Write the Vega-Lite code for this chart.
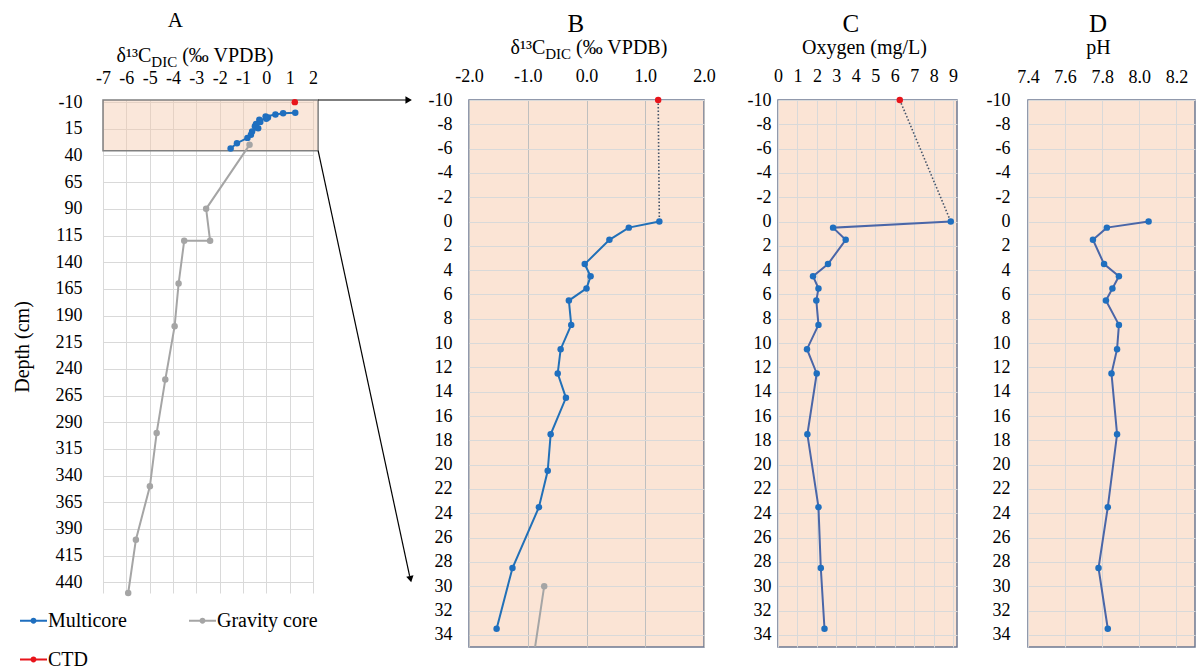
{
  "$schema": "https://vega.github.io/schema/vega-lite/v6.json",
  "padding": {"left": 12, "top": 9, "right": 0, "bottom": 0},
  "background": "white",
  "config": {
    "font": "Liberation Serif",
    "locale": {"number": {"decimal": ".", "thousands": ",", "grouping": [3], "currency": ["", ""], "minus": "-"}},
    "style": {"guide-label": {"font": "Liberation Serif", "fill": "#000"}, "guide-title": {"font": "Liberation Serif", "fill": "#000"}},
    "axis": {"labelFont": "Liberation Serif", "titleFont": "Liberation Serif", "labelFontSize": 18, "titleFontSize": 20, "labelColor": "#000", "titleColor": "#000", "titleFontWeight": "normal", "ticks": false, "tickSize": 0, "domain": false, "gridColor": "#D9D9D9", "gridWidth": 1, "labelOverlap": false, "labelFlush": false},
    "legend": {"labelFont": "Liberation Serif", "labelFontSize": 20, "labelColor": "#000"},
    "text": {"font": "Liberation Serif", "color": "#000"}
  },
  "datasets": {
    "profiles": [
      {"series": "CTD", "depth": -10, "d13c": 1.22, "oxygen": 6.26, "ph": null},
      {"series": "Multicore", "depth": 0, "d13c": 1.24, "oxygen": 8.88, "ph": 8.05},
      {"series": "Multicore", "depth": 0.5, "d13c": 0.72, "oxygen": 2.83, "ph": 7.825},
      {"series": "Multicore", "depth": 1.5, "d13c": 0.39, "oxygen": 3.48, "ph": 7.75},
      {"series": "Multicore", "depth": 3.5, "d13c": -0.03, "oxygen": 2.57, "ph": 7.81},
      {"series": "Multicore", "depth": 4.5, "d13c": 0.07, "oxygen": 1.8, "ph": 7.89},
      {"series": "Multicore", "depth": 5.5, "d13c": 0.0, "oxygen": 2.08, "ph": 7.855},
      {"series": "Multicore", "depth": 6.5, "d13c": -0.3, "oxygen": 1.97, "ph": 7.82},
      {"series": "Multicore", "depth": 8.5, "d13c": -0.26, "oxygen": 2.08, "ph": 7.89},
      {"series": "Multicore", "depth": 10.5, "d13c": -0.44, "oxygen": 1.49, "ph": 7.88},
      {"series": "Multicore", "depth": 12.5, "d13c": -0.49, "oxygen": 1.99, "ph": 7.85},
      {"series": "Multicore", "depth": 14.5, "d13c": -0.35, "oxygen": null, "ph": null},
      {"series": "Multicore", "depth": 17.5, "d13c": -0.61, "oxygen": 1.51, "ph": 7.88},
      {"series": "Multicore", "depth": 20.5, "d13c": -0.66, "oxygen": null, "ph": null},
      {"series": "Multicore", "depth": 23.5, "d13c": -0.81, "oxygen": 2.08, "ph": 7.83},
      {"series": "Multicore", "depth": 28.5, "d13c": -1.26, "oxygen": 2.2, "ph": 7.78},
      {"series": "Multicore", "depth": 33.5, "d13c": -1.53, "oxygen": 2.39, "ph": 7.83},
      {"series": "Gravity core", "depth": 30, "d13c": -0.72, "oxygen": null, "ph": null},
      {"series": "Gravity core", "depth": 90, "d13c": -2.58, "oxygen": null, "ph": null},
      {"series": "Gravity core", "depth": 120, "d13c": -2.41, "oxygen": null, "ph": null},
      {"series": "Gravity core", "depth": 120, "d13c": -3.52, "oxygen": null, "ph": null},
      {"series": "Gravity core", "depth": 160, "d13c": -3.76, "oxygen": null, "ph": null},
      {"series": "Gravity core", "depth": 200, "d13c": -3.93, "oxygen": null, "ph": null},
      {"series": "Gravity core", "depth": 250, "d13c": -4.33, "oxygen": null, "ph": null},
      {"series": "Gravity core", "depth": 300, "d13c": -4.7, "oxygen": null, "ph": null},
      {"series": "Gravity core", "depth": 350, "d13c": -4.99, "oxygen": null, "ph": null},
      {"series": "Gravity core", "depth": 400, "d13c": -5.59, "oxygen": null, "ph": null},
      {"series": "Gravity core", "depth": 450, "d13c": -5.92, "oxygen": null, "ph": null}
    ]
  },
  "bounds": "flush",
  "spacing": 156,
  "hconcat": [
    {
      "width": 210,
      "height": 493,
      "view": {"stroke": null},
      "layer": [
        {
          "data": {"values": [{}]},
          "mark": {"type": "rect", "fill": "#F4C9AC", "fillOpacity": 0.45, "stroke": "#808080", "strokeWidth": 1.5},
          "encoding": {
            "x": {"datum": -7, "type": "quantitative", "scale": {"domain": [-7, 2], "nice": false, "zero": false},
                  "axis": {"orient": "top", "values": [-7, -6, -5, -4, -3, -2, -1, 0, 1, 2], "grid": true, "title": null, "labelPadding": 16.5, "labelBaseline": "alphabetic", "labelOverlap": false, "labelFlush": false}},
            "x2": {"datum": 2.22},
            "y": {"datum": -12, "type": "quantitative", "scale": {"domain": [-12, 450], "reverse": true, "nice": false, "zero": false},
                  "axis": {"values": [-10, 15, 40, 65, 90, 115, 140, 165, 190, 215, 240, 265, 290, 315, 340, 365, 390, 415, 440], "grid": true, "title": "Depth (cm)", "titlePadding": 23, "labelPadding": 21, "labelOverlap": false, "labelFlush": false}},
            "y2": {"datum": 35.5}
          }
        },
        {
          "encoding": {
            "x": {"field": "d13c", "type": "quantitative", "scale": {"domain": [-7, 2], "nice": false, "zero": false},
                  "axis": {"orient": "top", "values": [-7, -6, -5, -4, -3, -2, -1, 0, 1, 2], "grid": true, "title": null, "labelPadding": 16.5, "labelBaseline": "alphabetic", "labelOverlap": false, "labelFlush": false}},
            "y": {"field": "depth", "type": "quantitative", "scale": {"domain": [-12, 450], "reverse": true, "nice": false, "zero": false},
                  "axis": {"values": [-10, 15, 40, 65, 90, 115, 140, 165, 190, 215, 240, 265, 290, 315, 340, 365, 390, 415, 440], "grid": true, "title": "Depth (cm)", "titlePadding": 23, "labelPadding": 21, "labelOverlap": false, "labelFlush": false}}
          },
          "layer": [
            {
              "data": {"name": "profiles"},
              "transform": [{"filter": "datum.series == 'Gravity core'"}],
              "mark": {"type": "line", "color": "#A5A5A5", "strokeWidth": 2},
              "encoding": {"order": {"value": null}}
            },
            {
              "data": {"name": "profiles"},
              "transform": [{"filter": "datum.series == 'Multicore'"}],
              "mark": {"type": "line", "color": "#2170B8", "strokeWidth": 2},
              "encoding": {"order": {"value": null}}
            },
            {
              "data": {"name": "profiles"},
              "mark": {"type": "point", "filled": true, "size": 42, "opacity": 1},
              "encoding": {
                "color": {"field": "series", "type": "nominal",
                          "scale": {"domain": ["Multicore", "Gravity core", "CTD"], "range": ["#1F6FBF", "#A5A5A5", "#E8141B"]},
                          "legend": {"orient": "none", "legendX": -83, "legendY": 507, "direction": "horizontal", "columns": 2, "title": null,
                                     "symbolType": "M-1,-0.075L1,-0.075L1,0.075L-1,0.075ZM-0.22,0A0.22,0.22,0,1,1,0.22,0A0.22,0.22,0,1,1,-0.22,0Z",
                                     "symbolSize": 729, "symbolStrokeWidth": 0, "labelFont": "Liberation Serif", "labelFontSize": 20, "labelColor": "#000",
                                     "labelOffset": 1, "columnPadding": 62, "rowPadding": 15,
                                     "encode": {
                                       "symbols": {"shape": {"value": "M-1,-0.075L1,-0.075L1,0.075L-1,0.075ZM-0.22,0A0.22,0.22,0,1,1,0.22,0A0.22,0.22,0,1,1,-0.22,0Z"}, "size": {"value": 729}, "strokeWidth": {"value": 0}, "opacity": {"value": 1}},
                                       "labels": {"font": {"value": "Liberation Serif"}, "fontSize": {"value": 20}, "fill": {"value": "#000"}}
                                     }}}
              }
            }
          ]
        },
        {
          "data": {"values": [{}]},
          "mark": {"type": "rule", "color": "#000", "strokeWidth": 1.2},
          "encoding": {
            "x": {"datum": 2.22, "type": "quantitative", "scale": {"domain": [-7, 2], "nice": false, "zero": false},
                  "axis": {"orient": "top", "values": [-7, -6, -5, -4, -3, -2, -1, 0, 1, 2], "grid": true, "title": null, "labelPadding": 16.5, "labelBaseline": "alphabetic", "labelOverlap": false, "labelFlush": false}},
            "x2": {"datum": 6.05},
            "y": {"datum": -12, "type": "quantitative", "scale": {"domain": [-12, 450], "reverse": true, "nice": false, "zero": false},
                  "axis": {"values": [-10, 15, 40, 65, 90, 115, 140, 165, 190, 215, 240, 265, 290, 315, 340, 365, 390, 415, 440], "grid": true, "title": "Depth (cm)", "titlePadding": 23, "labelPadding": 21, "labelOverlap": false, "labelFlush": false}},
            "y2": {"datum": -12}
          }
        },
        {
          "data": {"values": [{}]},
          "mark": {"type": "point", "shape": "triangle-right", "filled": true, "size": 55, "color": "#000", "opacity": 1},
          "encoding": {
            "x": {"datum": 6.1, "type": "quantitative", "scale": {"domain": [-7, 2], "nice": false, "zero": false},
                  "axis": {"orient": "top", "values": [-7, -6, -5, -4, -3, -2, -1, 0, 1, 2], "grid": true, "title": null, "labelPadding": 16.5, "labelBaseline": "alphabetic", "labelOverlap": false, "labelFlush": false}},
            "y": {"datum": -12, "type": "quantitative", "scale": {"domain": [-12, 450], "reverse": true, "nice": false, "zero": false},
                  "axis": {"values": [-10, 15, 40, 65, 90, 115, 140, 165, 190, 215, 240, 265, 290, 315, 340, 365, 390, 415, 440], "grid": true, "title": "Depth (cm)", "titlePadding": 23, "labelPadding": 21, "labelOverlap": false, "labelFlush": false}}
          }
        },
        {
          "data": {"values": [{}]},
          "mark": {"type": "rule", "color": "#000", "strokeWidth": 1.2},
          "encoding": {
            "x": {"datum": 2.22, "type": "quantitative", "scale": {"domain": [-7, 2], "nice": false, "zero": false},
                  "axis": {"orient": "top", "values": [-7, -6, -5, -4, -3, -2, -1, 0, 1, 2], "grid": true, "title": null, "labelPadding": 16.5, "labelBaseline": "alphabetic", "labelOverlap": false, "labelFlush": false}},
            "x2": {"datum": 6.14},
            "y": {"datum": 35.5, "type": "quantitative", "scale": {"domain": [-12, 450], "reverse": true, "nice": false, "zero": false},
                  "axis": {"values": [-10, 15, 40, 65, 90, 115, 140, 165, 190, 215, 240, 265, 290, 315, 340, 365, 390, 415, 440], "grid": true, "title": "Depth (cm)", "titlePadding": 23, "labelPadding": 21, "labelOverlap": false, "labelFlush": false}},
            "y2": {"datum": 434}
          }
        },
        {
          "data": {"values": [{}]},
          "mark": {"type": "point", "shape": "triangle-down", "angle": -12.2, "filled": true, "size": 55, "color": "#000", "opacity": 1},
          "encoding": {
            "x": {"datum": 6.18, "type": "quantitative", "scale": {"domain": [-7, 2], "nice": false, "zero": false},
                  "axis": {"orient": "top", "values": [-7, -6, -5, -4, -3, -2, -1, 0, 1, 2], "grid": true, "title": null, "labelPadding": 16.5, "labelBaseline": "alphabetic", "labelOverlap": false, "labelFlush": false}},
            "y": {"datum": 437, "type": "quantitative", "scale": {"domain": [-12, 450], "reverse": true, "nice": false, "zero": false},
                  "axis": {"values": [-10, 15, 40, 65, 90, 115, 140, 165, 190, 215, 240, 265, 290, 315, 340, 365, 390, 415, 440], "grid": true, "title": "Depth (cm)", "titlePadding": 23, "labelPadding": 21, "labelOverlap": false, "labelFlush": false}}
          }
        },
        {
          "data": {"values": [{}]},
          "mark": {"type": "text", "text": "A", "fontSize": 21, "align": "center", "baseline": "alphabetic", "dy": -73.3},
          "encoding": {
            "x": {"datum": -3.9, "type": "quantitative", "scale": {"domain": [-7, 2], "nice": false, "zero": false},
                  "axis": {"orient": "top", "values": [-7, -6, -5, -4, -3, -2, -1, 0, 1, 2], "grid": true, "title": null, "labelPadding": 16.5, "labelBaseline": "alphabetic", "labelOverlap": false, "labelFlush": false}},
            "y": {"datum": -12, "type": "quantitative", "scale": {"domain": [-12, 450], "reverse": true, "nice": false, "zero": false},
                  "axis": {"values": [-10, 15, 40, 65, 90, 115, 140, 165, 190, 215, 240, 265, 290, 315, 340, 365, 390, 415, 440], "grid": true, "title": "Depth (cm)", "titlePadding": 23, "labelPadding": 21, "labelOverlap": false, "labelFlush": false}}
          }
        },
        {
          "data": {"values": [{}]},
          "mark": {"type": "text", "text": "δ¹³C", "fontSize": 20, "align": "right", "baseline": "alphabetic", "dx": -43.6, "dy": -38},
          "encoding": {
            "x": {"datum": -3.06, "type": "quantitative", "scale": {"domain": [-7, 2], "nice": false, "zero": false},
                  "axis": {"orient": "top", "values": [-7, -6, -5, -4, -3, -2, -1, 0, 1, 2], "grid": true, "title": null, "labelPadding": 16.5, "labelBaseline": "alphabetic", "labelOverlap": false, "labelFlush": false}},
            "y": {"datum": -12, "type": "quantitative", "scale": {"domain": [-12, 450], "reverse": true, "nice": false, "zero": false},
                  "axis": {"values": [-10, 15, 40, 65, 90, 115, 140, 165, 190, 215, 240, 265, 290, 315, 340, 365, 390, 415, 440], "grid": true, "title": "Depth (cm)", "titlePadding": 23, "labelPadding": 21, "labelOverlap": false, "labelFlush": false}}
          }
        },
        {
          "data": {"values": [{}]},
          "mark": {"type": "text", "text": "DIC", "fontSize": 15, "align": "left", "baseline": "alphabetic", "dx": -43.6, "dy": -33},
          "encoding": {
            "x": {"datum": -3.06, "type": "quantitative", "scale": {"domain": [-7, 2], "nice": false, "zero": false},
                  "axis": {"orient": "top", "values": [-7, -6, -5, -4, -3, -2, -1, 0, 1, 2], "grid": true, "title": null, "labelPadding": 16.5, "labelBaseline": "alphabetic", "labelOverlap": false, "labelFlush": false}},
            "y": {"datum": -12, "type": "quantitative", "scale": {"domain": [-12, 450], "reverse": true, "nice": false, "zero": false},
                  "axis": {"values": [-10, 15, 40, 65, 90, 115, 140, 165, 190, 215, 240, 265, 290, 315, 340, 365, 390, 415, 440], "grid": true, "title": "Depth (cm)", "titlePadding": 23, "labelPadding": 21, "labelOverlap": false, "labelFlush": false}}
          }
        },
        {
          "data": {"values": [{}]},
          "mark": {"type": "text", "text": "(‰ VPDB)", "fontSize": 20, "align": "left", "baseline": "alphabetic", "dx": -12.8, "dy": -38},
          "encoding": {
            "x": {"datum": -3.06, "type": "quantitative", "scale": {"domain": [-7, 2], "nice": false, "zero": false},
                  "axis": {"orient": "top", "values": [-7, -6, -5, -4, -3, -2, -1, 0, 1, 2], "grid": true, "title": null, "labelPadding": 16.5, "labelBaseline": "alphabetic", "labelOverlap": false, "labelFlush": false}},
            "y": {"datum": -12, "type": "quantitative", "scale": {"domain": [-12, 450], "reverse": true, "nice": false, "zero": false},
                  "axis": {"values": [-10, 15, 40, 65, 90, 115, 140, 165, 190, 215, 240, 265, 290, 315, 340, 365, 390, 415, 440], "grid": true, "title": "Depth (cm)", "titlePadding": 23, "labelPadding": 21, "labelOverlap": false, "labelFlush": false}}
          }
        }
      ]
    },
    {
      "bounds": "flush",
      "spacing": 74,
      "hconcat": [
        {
          "width": 235,
          "height": 547,
          "view": {"fill": "#FBE4D5", "stroke": "#6E7891", "strokeWidth": 1.5},
          "layer": [
            {
              "encoding": {
                "x": {"field": "d13c", "type": "quantitative", "scale": {"domain": [-2, 2], "nice": false, "zero": false},
                      "axis": {"orient": "top", "values": [-2, -1, 0, 1, 2], "format": ".1f", "grid": true, "gridColor": "#BFBFBF", "title": null, "labelPadding": 19, "labelBaseline": "alphabetic", "labelOverlap": false, "labelFlush": false}},
                "y": {"field": "depth", "type": "quantitative", "scale": {"domain": [-10, 35], "reverse": true, "nice": false, "zero": false},
                      "axis": {"values": [-10, -8, -6, -4, -2, 0, 2, 4, 6, 8, 10, 12, 14, 16, 18, 20, 22, 24, 26, 28, 30, 32, 34], "grid": true, "title": null, "labelPadding": 17, "labelOverlap": false, "labelFlush": false}}
              },
              "layer": [
                {
                  "data": {"name": "profiles"},
                  "transform": [{"filter": "datum.series == 'Gravity core'"}],
                  "mark": {"type": "line", "color": "#A5A5A5", "strokeWidth": 2, "clip": true},
                  "encoding": {"order": {"value": null}}
                },
                {
                  "data": {"name": "profiles"},
                  "transform": [{"filter": "datum.series == 'CTD' || (datum.series == 'Multicore' && datum.depth == 0)"}],
                  "mark": {"type": "line", "color": "#44546A", "strokeWidth": 1.6, "strokeDash": [1.5, 2]},
                  "encoding": {"order": {"value": null}}
                },
                {
                  "data": {"name": "profiles"},
                  "transform": [{"filter": "datum.series == 'Multicore'"}],
                  "mark": {"type": "line", "color": "#2170B8", "strokeWidth": 2},
                  "encoding": {"order": {"value": null}}
                },
                {
                  "data": {"name": "profiles"},
                  "transform": [{"filter": "datum.series != 'Gravity core' || datum.depth <= 35"}],
                  "mark": {"type": "point", "filled": true, "size": 42, "opacity": 1},
                  "encoding": {
                    "color": {"field": "series", "type": "nominal", "scale": {"domain": ["Multicore", "Gravity core", "CTD"], "range": ["#1F6FBF", "#A5A5A5", "#E8141B"]}, "legend": null}
                  }
                }
              ]
            },
            {
              "data": {"values": [{}]},
              "mark": {"type": "text", "text": "B", "fontSize": 25, "align": "center", "baseline": "alphabetic", "dy": -68},
              "encoding": {
                "x": {"datum": -0.18, "type": "quantitative", "scale": {"domain": [-2, 2], "nice": false, "zero": false},
                      "axis": {"orient": "top", "values": [-2, -1, 0, 1, 2], "format": ".1f", "grid": true, "gridColor": "#BFBFBF", "title": null, "labelPadding": 19, "labelBaseline": "alphabetic", "labelOverlap": false, "labelFlush": false}},
                "y": {"datum": -10, "type": "quantitative", "scale": {"domain": [-10, 35], "reverse": true, "nice": false, "zero": false},
                      "axis": {"values": [-10, -8, -6, -4, -2, 0, 2, 4, 6, 8, 10, 12, 14, 16, 18, 20, 22, 24, 26, 28, 30, 32, 34], "grid": true, "title": null, "labelPadding": 17, "labelOverlap": false, "labelFlush": false}}
              }
            },
            {
              "data": {"values": [{}]},
              "mark": {"type": "text", "text": "δ¹³C", "fontSize": 20, "align": "right", "baseline": "alphabetic", "dx": -43.6, "dy": -46.5},
              "encoding": {
                "x": {"datum": 0.04, "type": "quantitative", "scale": {"domain": [-2, 2], "nice": false, "zero": false},
                      "axis": {"orient": "top", "values": [-2, -1, 0, 1, 2], "format": ".1f", "grid": true, "gridColor": "#BFBFBF", "title": null, "labelPadding": 19, "labelBaseline": "alphabetic", "labelOverlap": false, "labelFlush": false}},
                "y": {"datum": -10, "type": "quantitative", "scale": {"domain": [-10, 35], "reverse": true, "nice": false, "zero": false},
                      "axis": {"values": [-10, -8, -6, -4, -2, 0, 2, 4, 6, 8, 10, 12, 14, 16, 18, 20, 22, 24, 26, 28, 30, 32, 34], "grid": true, "title": null, "labelPadding": 17, "labelOverlap": false, "labelFlush": false}}
              }
            },
            {
              "data": {"values": [{}]},
              "mark": {"type": "text", "text": "DIC", "fontSize": 15, "align": "left", "baseline": "alphabetic", "dx": -43.6, "dy": -41.5},
              "encoding": {
                "x": {"datum": 0.04, "type": "quantitative", "scale": {"domain": [-2, 2], "nice": false, "zero": false},
                      "axis": {"orient": "top", "values": [-2, -1, 0, 1, 2], "format": ".1f", "grid": true, "gridColor": "#BFBFBF", "title": null, "labelPadding": 19, "labelBaseline": "alphabetic", "labelOverlap": false, "labelFlush": false}},
                "y": {"datum": -10, "type": "quantitative", "scale": {"domain": [-10, 35], "reverse": true, "nice": false, "zero": false},
                      "axis": {"values": [-10, -8, -6, -4, -2, 0, 2, 4, 6, 8, 10, 12, 14, 16, 18, 20, 22, 24, 26, 28, 30, 32, 34], "grid": true, "title": null, "labelPadding": 17, "labelOverlap": false, "labelFlush": false}}
              }
            },
            {
              "data": {"values": [{}]},
              "mark": {"type": "text", "text": "(‰ VPDB)", "fontSize": 20, "align": "left", "baseline": "alphabetic", "dx": -12.8, "dy": -46.5},
              "encoding": {
                "x": {"datum": 0.04, "type": "quantitative", "scale": {"domain": [-2, 2], "nice": false, "zero": false},
                      "axis": {"orient": "top", "values": [-2, -1, 0, 1, 2], "format": ".1f", "grid": true, "gridColor": "#BFBFBF", "title": null, "labelPadding": 19, "labelBaseline": "alphabetic", "labelOverlap": false, "labelFlush": false}},
                "y": {"datum": -10, "type": "quantitative", "scale": {"domain": [-10, 35], "reverse": true, "nice": false, "zero": false},
                      "axis": {"values": [-10, -8, -6, -4, -2, 0, 2, 4, 6, 8, 10, 12, 14, 16, 18, 20, 22, 24, 26, 28, 30, 32, 34], "grid": true, "title": null, "labelPadding": 17, "labelOverlap": false, "labelFlush": false}}
              }
            }
          ]
        },
        {
          "bounds": "flush",
          "spacing": 71,
          "hconcat": [
            {
              "width": 179,
              "height": 547,
              "view": {"fill": "#FBE4D5", "stroke": "#6E7891", "strokeWidth": 1.5},
              "layer": [
                {
                  "data": {"name": "profiles"},
                  "transform": [{"filter": "datum.series == 'CTD' || (datum.series == 'Multicore' && datum.depth == 0)"}],
                  "mark": {"type": "line", "color": "#44546A", "strokeWidth": 1.6, "strokeDash": [1.5, 2]},
                  "encoding": {
                    "x": {"field": "oxygen", "type": "quantitative", "scale": {"domain": [0, 9.2], "nice": false, "zero": false},
                          "axis": {"orient": "top", "values": [0, 1, 2, 3, 4, 5, 6, 7, 8, 9], "grid": true, "title": "Oxygen (mg/L)", "titleX": 86, "titleY": -46.7, "titleBaseline": "alphabetic", "labelPadding": 18.5, "labelBaseline": "alphabetic", "labelOverlap": false, "labelFlush": false}},
                    "y": {"field": "depth", "type": "quantitative", "scale": {"domain": [-10, 35], "reverse": true, "nice": false, "zero": false},
                          "axis": {"values": [-10, -8, -6, -4, -2, 0, 2, 4, 6, 8, 10, 12, 14, 16, 18, 20, 22, 24, 26, 28, 30, 32, 34], "grid": true, "title": null, "labelPadding": 7, "labelOverlap": false, "labelFlush": false}},
                    "order": {"value": null}
                  }
                },
                {
                  "data": {"name": "profiles"},
                  "transform": [{"filter": "datum.series == 'Multicore' && isValid(datum.oxygen)"}],
                  "mark": {"type": "line", "color": "#4A66A8", "strokeWidth": 2},
                  "encoding": {
                    "x": {"field": "oxygen", "type": "quantitative", "scale": {"domain": [0, 9.2], "nice": false, "zero": false},
                          "axis": {"orient": "top", "values": [0, 1, 2, 3, 4, 5, 6, 7, 8, 9], "grid": true, "title": "Oxygen (mg/L)", "titleX": 86, "titleY": -46.7, "titleBaseline": "alphabetic", "labelPadding": 18.5, "labelBaseline": "alphabetic", "labelOverlap": false, "labelFlush": false}},
                    "y": {"field": "depth", "type": "quantitative", "scale": {"domain": [-10, 35], "reverse": true, "nice": false, "zero": false},
                          "axis": {"values": [-10, -8, -6, -4, -2, 0, 2, 4, 6, 8, 10, 12, 14, 16, 18, 20, 22, 24, 26, 28, 30, 32, 34], "grid": true, "title": null, "labelPadding": 7, "labelOverlap": false, "labelFlush": false}},
                    "order": {"value": null}
                  }
                },
                {
                  "data": {"name": "profiles"},
                  "transform": [{"filter": "isValid(datum.oxygen)"}],
                  "mark": {"type": "point", "filled": true, "size": 42, "opacity": 1},
                  "encoding": {
                    "x": {"field": "oxygen", "type": "quantitative", "scale": {"domain": [0, 9.2], "nice": false, "zero": false},
                          "axis": {"orient": "top", "values": [0, 1, 2, 3, 4, 5, 6, 7, 8, 9], "grid": true, "title": "Oxygen (mg/L)", "titleX": 86, "titleY": -46.7, "titleBaseline": "alphabetic", "labelPadding": 18.5, "labelBaseline": "alphabetic", "labelOverlap": false, "labelFlush": false}},
                    "y": {"field": "depth", "type": "quantitative", "scale": {"domain": [-10, 35], "reverse": true, "nice": false, "zero": false},
                          "axis": {"values": [-10, -8, -6, -4, -2, 0, 2, 4, 6, 8, 10, 12, 14, 16, 18, 20, 22, 24, 26, 28, 30, 32, 34], "grid": true, "title": null, "labelPadding": 7, "labelOverlap": false, "labelFlush": false}},
                    "color": {"field": "series", "type": "nominal", "scale": {"domain": ["Multicore", "Gravity core", "CTD"], "range": ["#1F6FBF", "#A5A5A5", "#E8141B"]}, "legend": null}
                  }
                },
                {
                  "data": {"values": [{}]},
                  "mark": {"type": "text", "text": "C", "fontSize": 25, "align": "center", "baseline": "alphabetic", "dy": -68},
                  "encoding": {
                    "x": {"datum": 3.75, "type": "quantitative", "scale": {"domain": [0, 9.2], "nice": false, "zero": false},
                          "axis": {"orient": "top", "values": [0, 1, 2, 3, 4, 5, 6, 7, 8, 9], "grid": true, "title": "Oxygen (mg/L)", "titleX": 86, "titleY": -46.7, "titleBaseline": "alphabetic", "labelPadding": 18.5, "labelBaseline": "alphabetic", "labelOverlap": false, "labelFlush": false}},
                    "y": {"datum": -10, "type": "quantitative", "scale": {"domain": [-10, 35], "reverse": true, "nice": false, "zero": false},
                          "axis": {"values": [-10, -8, -6, -4, -2, 0, 2, 4, 6, 8, 10, 12, 14, 16, 18, 20, 22, 24, 26, 28, 30, 32, 34], "grid": true, "title": null, "labelPadding": 7, "labelOverlap": false, "labelFlush": false}}
                  }
                }
              ]
            },
            {
              "width": 167,
              "height": 547,
              "view": {"fill": "#FBE4D5", "stroke": "#6E7891", "strokeWidth": 1.5},
              "layer": [
                {
                  "data": {"name": "profiles"},
                  "transform": [{"filter": "datum.series == 'Multicore' && isValid(datum.ph)"}],
                  "mark": {"type": "line", "color": "#4A66A8", "strokeWidth": 2},
                  "encoding": {
                    "x": {"field": "ph", "type": "quantitative", "scale": {"domain": [7.4, 8.3], "nice": false, "zero": false},
                          "axis": {"orient": "top", "values": [7.4, 7.6, 7.8, 8.0, 8.2], "format": ".1f", "grid": true, "title": "pH", "titleX": 70, "titleY": -46.7, "titleBaseline": "alphabetic", "labelPadding": 18, "labelBaseline": "alphabetic", "labelOverlap": false, "labelFlush": false}},
                    "y": {"field": "depth", "type": "quantitative", "scale": {"domain": [-10, 35], "reverse": true, "nice": false, "zero": false},
                          "axis": {"values": [-10, -8, -6, -4, -2, 0, 2, 4, 6, 8, 10, 12, 14, 16, 18, 20, 22, 24, 26, 28, 30, 32, 34], "grid": true, "title": null, "labelPadding": 18, "labelOverlap": false, "labelFlush": false}},
                    "order": {"value": null}
                  }
                },
                {
                  "data": {"name": "profiles"},
                  "transform": [{"filter": "isValid(datum.ph)"}],
                  "mark": {"type": "point", "filled": true, "size": 42, "opacity": 1},
                  "encoding": {
                    "x": {"field": "ph", "type": "quantitative", "scale": {"domain": [7.4, 8.3], "nice": false, "zero": false},
                          "axis": {"orient": "top", "values": [7.4, 7.6, 7.8, 8.0, 8.2], "format": ".1f", "grid": true, "title": "pH", "titleX": 70, "titleY": -46.7, "titleBaseline": "alphabetic", "labelPadding": 18, "labelBaseline": "alphabetic", "labelOverlap": false, "labelFlush": false}},
                    "y": {"field": "depth", "type": "quantitative", "scale": {"domain": [-10, 35], "reverse": true, "nice": false, "zero": false},
                          "axis": {"values": [-10, -8, -6, -4, -2, 0, 2, 4, 6, 8, 10, 12, 14, 16, 18, 20, 22, 24, 26, 28, 30, 32, 34], "grid": true, "title": null, "labelPadding": 18, "labelOverlap": false, "labelFlush": false}},
                    "color": {"field": "series", "type": "nominal", "scale": {"domain": ["Multicore", "Gravity core", "CTD"], "range": ["#1F6FBF", "#A5A5A5", "#E8141B"]}, "legend": null}
                  }
                },
                {
                  "data": {"values": [{}]},
                  "mark": {"type": "text", "text": "D", "fontSize": 25, "align": "center", "baseline": "alphabetic", "dy": -68},
                  "encoding": {
                    "x": {"datum": 7.777, "type": "quantitative", "scale": {"domain": [7.4, 8.3], "nice": false, "zero": false},
                          "axis": {"orient": "top", "values": [7.4, 7.6, 7.8, 8.0, 8.2], "format": ".1f", "grid": true, "title": "pH", "titleX": 70, "titleY": -46.7, "titleBaseline": "alphabetic", "labelPadding": 18, "labelBaseline": "alphabetic", "labelOverlap": false, "labelFlush": false}},
                    "y": {"datum": -10, "type": "quantitative", "scale": {"domain": [-10, 35], "reverse": true, "nice": false, "zero": false},
                          "axis": {"values": [-10, -8, -6, -4, -2, 0, 2, 4, 6, 8, 10, 12, 14, 16, 18, 20, 22, 24, 26, 28, 30, 32, 34], "grid": true, "title": null, "labelPadding": 18, "labelOverlap": false, "labelFlush": false}}
                  }
                }
              ]
            }
          ]
        }
      ]
    }
  ]
}
